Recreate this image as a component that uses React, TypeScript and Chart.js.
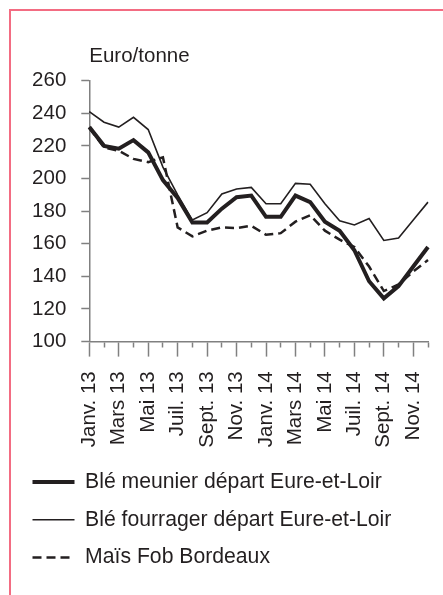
import React, { useEffect, useRef } from 'react';
import { Chart, registerables } from 'chart.js';

Chart.register(...registerables);

const months = [
  'Janv. 13', 'Févr. 13', 'Mars 13', 'Avr. 13', 'Mai 13', 'Juin 13',
  'Juil. 13', 'Août 13', 'Sept. 13', 'Oct. 13', 'Nov. 13', 'Déc. 13',
  'Janv. 14', 'Févr. 14', 'Mars 14', 'Avr. 14', 'Mai 14', 'Juin 14',
  'Juil. 14', 'Août 14', 'Sept. 14', 'Oct. 14', 'Nov. 14', 'Déc. 14',
];

const bleMeunier = [
  231.5, 220, 218.3, 223.5, 216, 199, 188, 173, 173, 181.5, 188.5, 189.5,
  176.5, 176.5, 189.5, 185.5, 173.5, 168, 156, 137, 126.5, 134, 146, 158,
];

const bleFourrager = [
  241, 234.5, 231.5, 237.5, 230, 207, 190, 174.5, 179, 190.5, 193.5, 194.5,
  184.5, 184.5, 197, 196.5, 184.5, 174, 171.5, 175.5, 162, 163.5, 174.5, 185.5,
];

const maisFob = [
  231, 219, 217, 212, 210, 213, 170, 164.5, 168, 170, 169.5, 171,
  165.5, 166.5, 173.5, 177.5, 168, 162.5, 158, 146, 131, 135, 143, 150,
];

const seriesNames = [
  'Blé meunier départ Eure-et-Loir',
  'Blé fourrager départ Eure-et-Loir',
  'Maïs Fob Bordeaux',
];

const yMin = 100;
const yMax = 260;
const yStep = 20;
const unitLabel = 'Euro/tonne';

export default function App() {
  const ref = useRef<HTMLCanvasElement>(null);

  useEffect(() => {
    const FONT = "'Liberation Sans', Arial, Helvetica, sans-serif";
    const INK = '#231f20';
    const AXIS = '#808080';
    const font = { family: FONT, size: 20.5, weight: 'normal' as const };
    const legendFont = { family: FONT, size: 21.2, weight: 'normal' as const };
    const dashes = [[], [], [9, 5]];

    const chart = new Chart(ref.current as HTMLCanvasElement, {
      type: 'line',
      data: {
        labels: months,
        datasets: [
          {
            label: seriesNames[0],
            data: bleMeunier,
            borderColor: INK,
            backgroundColor: INK,
            borderWidth: 4,
            borderJoinStyle: 'miter',
          },
          {
            label: seriesNames[1],
            data: bleFourrager,
            borderColor: INK,
            backgroundColor: INK,
            borderWidth: 1.6,
            borderJoinStyle: 'miter',
          },
          {
            label: seriesNames[2],
            data: maisFob,
            borderColor: INK,
            backgroundColor: INK,
            borderWidth: 2.5,
            borderDash: dashes[2],
            borderJoinStyle: 'miter',
          },
        ],
      },
      options: {
        responsive: false,
        animation: false,
        layout: { padding: { left: 16, right: 15, top: 12, bottom: 17 } },
        elements: {
          point: { radius: 0, hoverRadius: 0 },
          line: { tension: 0, fill: false },
        },
        plugins: {
          tooltip: { enabled: false },
          title: {
            display: true,
            text: unitLabel,
            align: 'start',
            fullSize: false,
            color: INK,
            font,
            padding: { top: 32, bottom: 12 },
          },
          legend: {
            position: 'bottom',
            align: 'start',
            labels: {
              usePointStyle: true,
              pointStyle: 'line',
              pointStyleWidth: 42,
              padding: 16.5,
              color: INK,
              font: legendFont,
              generateLabels: (c: any) => {
                const items = Chart.defaults.plugins.legend.labels.generateLabels(c);
                return items.map((it: any, i: number) => ({
                  ...it,
                  lineDash: dashes[it.datasetIndex ?? i],
                  lineWidth: (c.data.datasets[it.datasetIndex ?? i] as any).borderWidth,
                  strokeStyle: INK,
                }));
              },
            },
          },
        },
        scales: {
          x: {
            type: 'category',
            offset: false,
            grid: {
              display: true,
              drawOnChartArea: false,
              drawTicks: true,
              tickLength: 15,
              tickColor: AXIS,
              tickWidth: 1.5,
              tickBorderDash: (c: any) => (c.index % 2 ? [5, 100] : []),
            },
            border: { display: true, color: AXIS, width: 1.5 },
            ticks: {
              autoSkip: false,
              minRotation: 90,
              maxRotation: 90,
              padding: 14.7,
              color: INK,
              font,
              callback: (_v: any, i: number) => (i % 2 === 0 ? months[i] : ''),
            },
            afterFit: (s: any) => {
              s.height = 113.3;
              s.paddingLeft = 0;
              s.paddingRight = 0;
            },
          },
          y: {
            min: yMin,
            max: yMax,
            grid: {
              display: true,
              drawOnChartArea: false,
              drawTicks: true,
              tickLength: 8,
              tickColor: AXIS,
              tickWidth: 1.5,
            },
            border: { display: true, color: AXIS, width: 1.5 },
            ticks: {
              stepSize: yStep,
              padding: 15,
              color: INK,
              font,
            },
            afterFit: (s: any) => {
              s.width = 73.3;
            },
          },
        },
      },
    });
    return () => chart.destroy();
  }, []);

  return (
    <div style={{ position: 'fixed', left: 0, top: 0, width: 443, height: 595, background: '#fff', overflow: 'hidden' }}>
      <canvas ref={ref} width={443} height={595} style={{ width: 443, height: 595, display: 'block' }} />
      <div
        style={{
          position: 'absolute',
          left: 9,
          top: 9,
          width: 460,
          height: 620,
          borderTop: '2px solid #f36c82',
          borderLeft: '2px solid #f36c82',
          pointerEvents: 'none',
        }}
      />
    </div>
  );
}
